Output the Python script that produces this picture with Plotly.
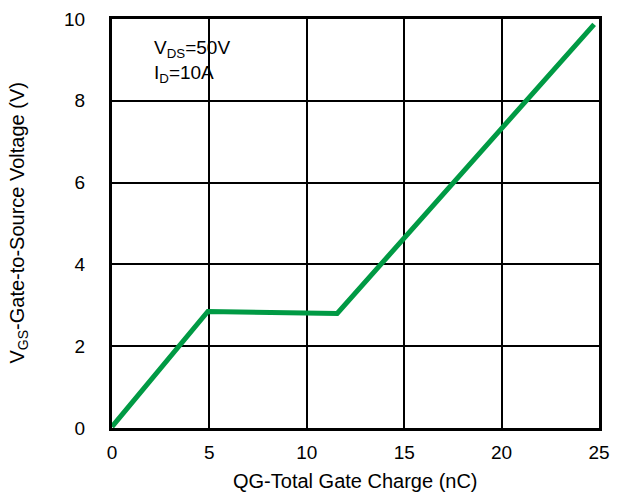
import plotly.graph_objects as go

qg = [0.0, 4.92, 11.56, 24.75]
vgs = [0.03, 2.85, 2.8, 9.87]
x_ticks = [0, 5, 10, 15, 20, 25]
y_ticks = [0, 2, 4, 6, 8, 10]

font = "Liberation Sans, Arial, sans-serif"

fig = go.Figure()
fig.add_trace(go.Scatter(x=qg, y=vgs, mode="lines",
                         line=dict(color="#009a44", width=5), showlegend=False))

fig.update_layout(
    width=619, height=493,
    margin=dict(l=112, r=9, t=19, b=65),
    paper_bgcolor="white", plot_bgcolor="white",
    font=dict(family=font, size=19, color="black"),
    xaxis=dict(range=[0, 25], tickvals=x_ticks, showgrid=True, gridcolor="black",
               gridwidth=2, showline=True, linecolor="black", linewidth=3, mirror=True,
               zeroline=False, ticks="outside", ticklen=5, tickcolor="rgba(0,0,0,0)"),
    yaxis=dict(range=[0, 10], tickvals=y_ticks, showgrid=True, gridcolor="black",
               gridwidth=2, showline=True, linecolor="black", linewidth=3, mirror=True,
               zeroline=False, ticks="outside", ticklen=20, tickcolor="rgba(0,0,0,0)"),
)
fig.add_annotation(x=0.5, y=-0.13, xref="paper", yref="paper", xanchor="center",
                   yanchor="middle", text="QG-Total Gate Charge (nC)", showarrow=False,
                   font=dict(size=20))
fig.add_annotation(x=-0.193, y=0.5, xref="paper", yref="paper", xanchor="center",
                   yanchor="middle", textangle=-90,
                   text="V<sub>GS</sub>-Gate-to-Source Voltage (V)", showarrow=False,
                   font=dict(size=20))
fig.add_annotation(x=0.082, y=0.96, xref="paper", yref="paper", xanchor="left", yanchor="top",
                   text="V<sub>DS</sub>=50V<br>I<sub>D</sub>=10A", showarrow=False,
                   align="left", font=dict(size=19))

fig.write_html("out.html")
